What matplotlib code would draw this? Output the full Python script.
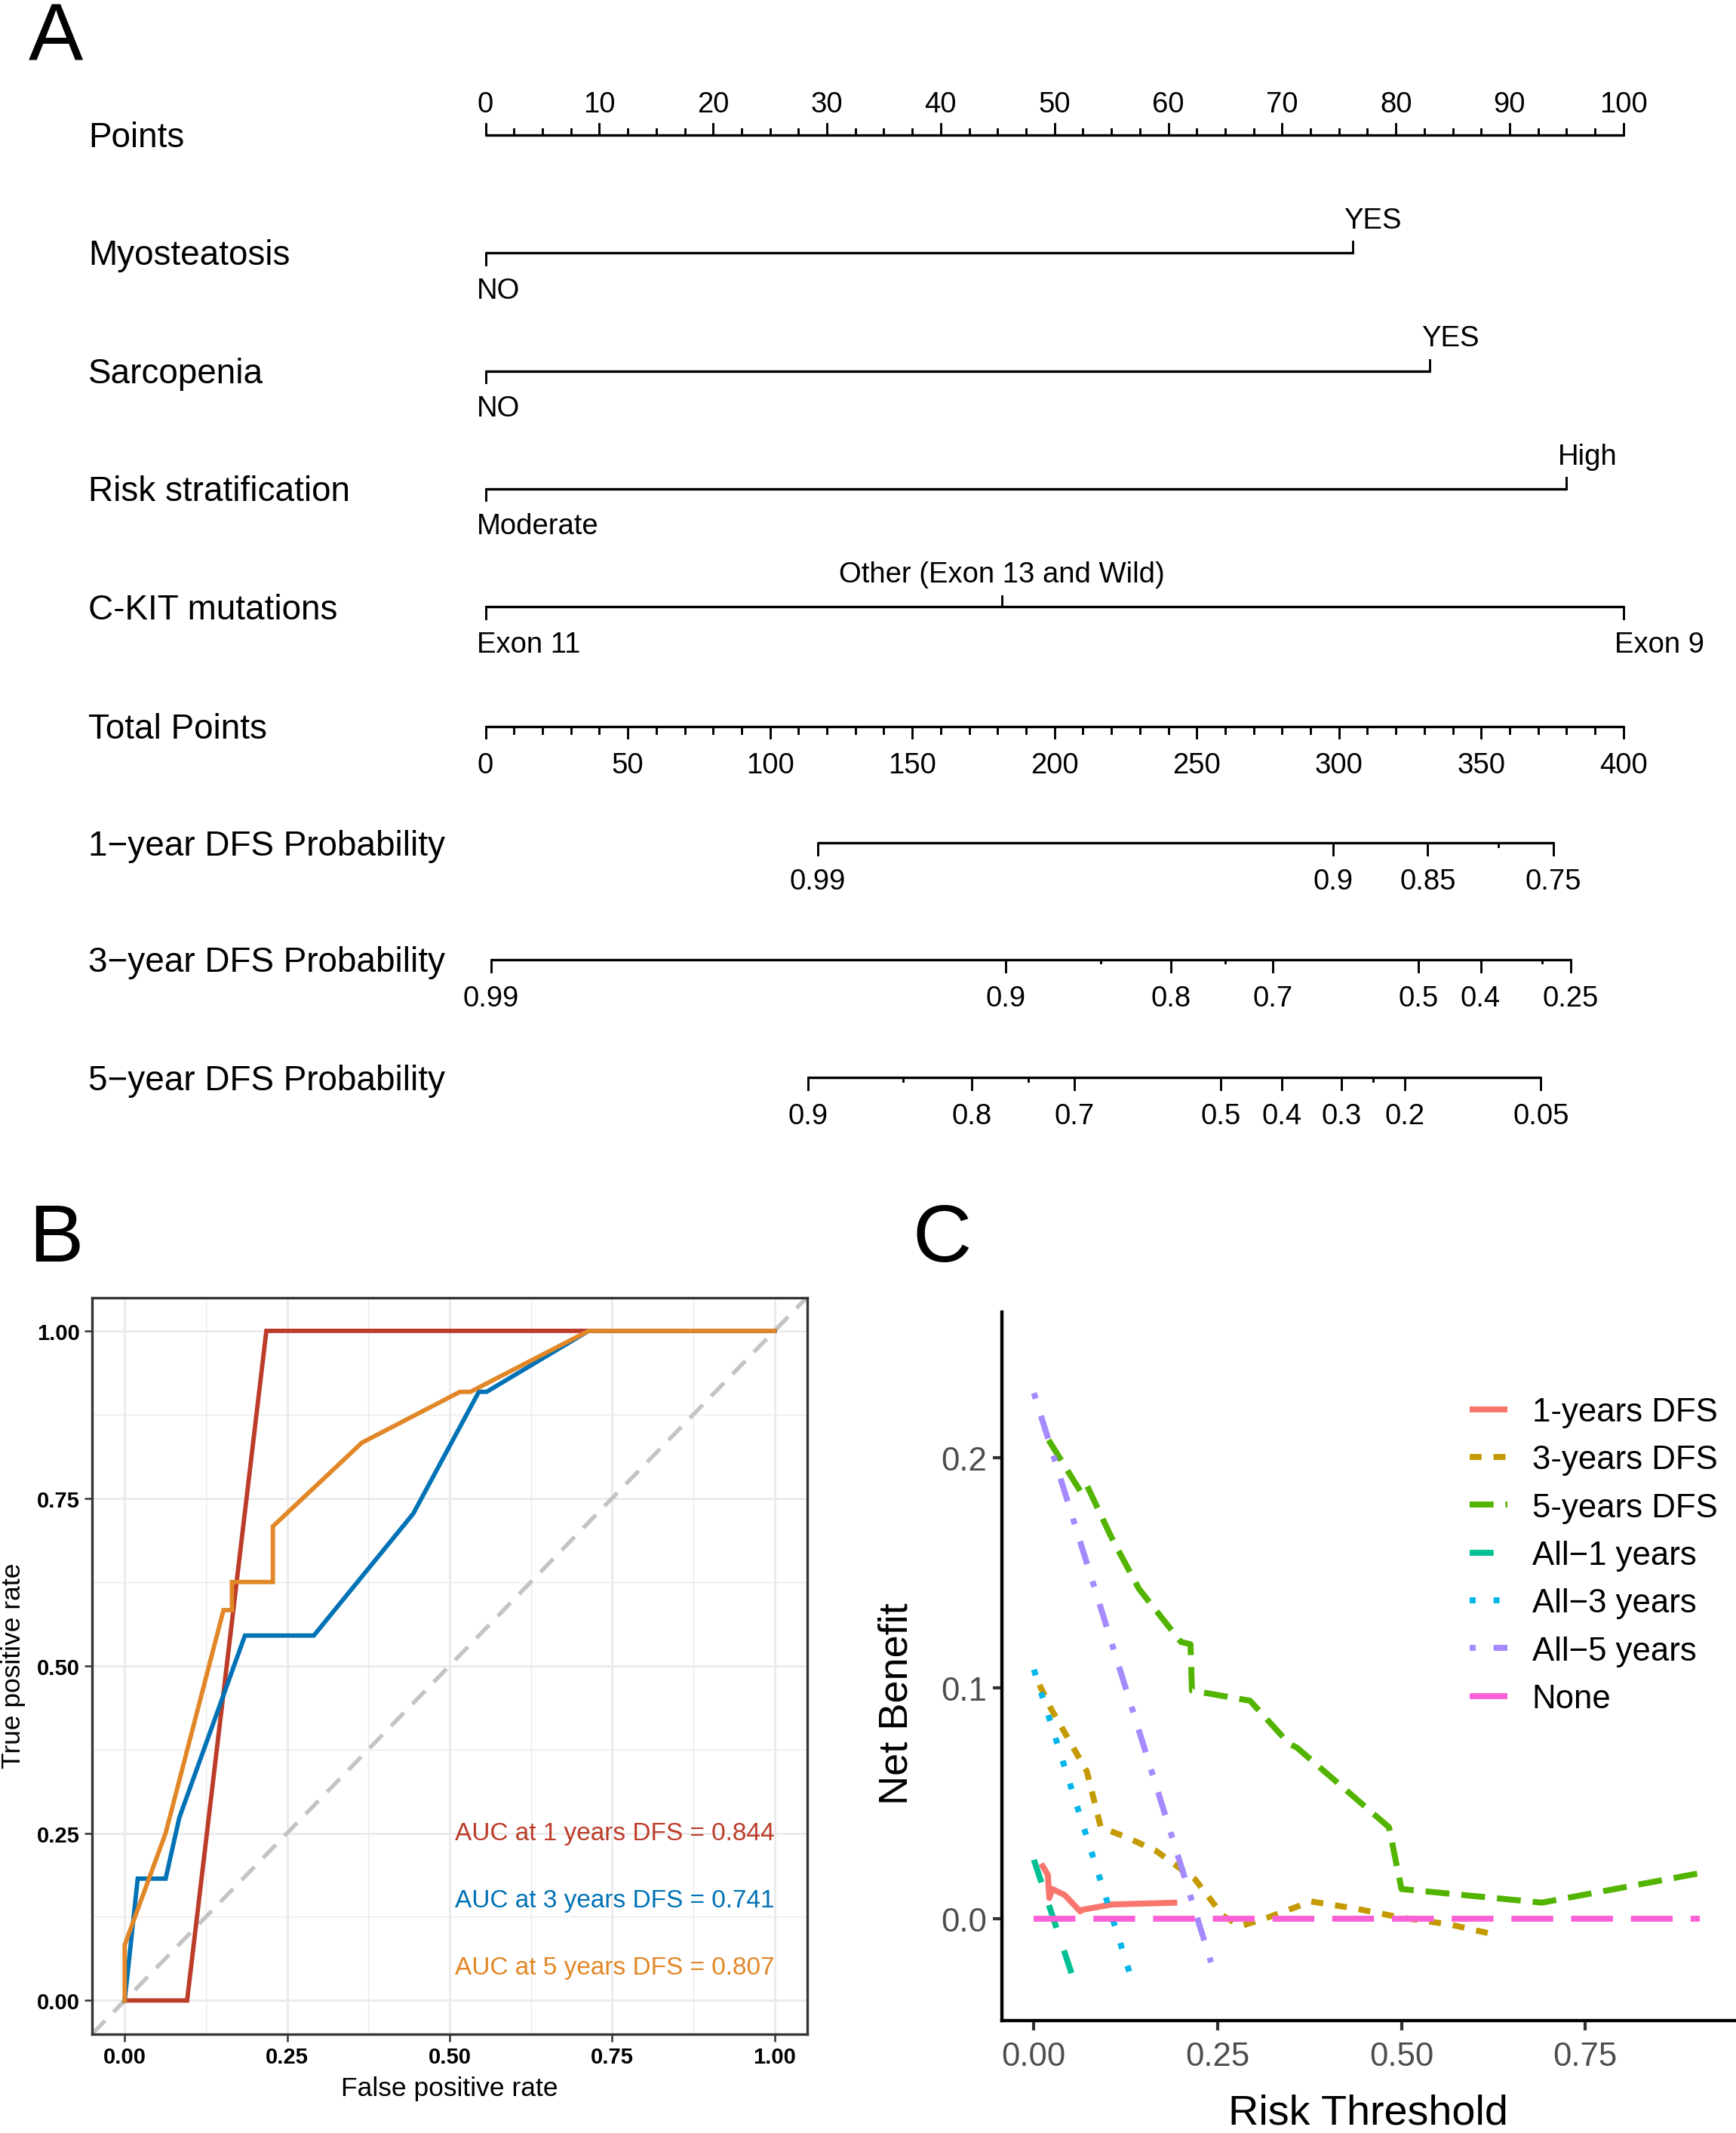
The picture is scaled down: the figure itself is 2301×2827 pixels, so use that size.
import matplotlib
matplotlib.use("Agg")
import matplotlib.pyplot as plt
import numpy as np

plt.rcParams['font.family'] = ['Liberation Sans', 'DejaVu Sans']
MINUS = "\u2212"

# ------------------------------------------------------------------ data
# Panel A: nomogram
points_major = list(range(0, 101, 10))
points_minor = list(np.arange(0, 100.1, 2.5))

var_names = ["Myosteatosis", "Sarcopenia", "Risk stratification", "C-KIT mutations"]
myo_levels = ["NO", "YES"]
myo_points = [0, 76.2]
sarc_levels = ["NO", "YES"]
sarc_points = [0, 83.0]
risk_levels = ["Moderate", "High"]
risk_points = [0, 95.0]
ckit_levels = ["Exon 11", "Other (Exon 13 and Wild)", "Exon 9"]
ckit_points = [0, 45.4, 100]

total_major = list(range(0, 401, 50))
total_minor = list(range(0, 401, 10))

prob_names = ["1" + MINUS + "year DFS Probability",
              "3" + MINUS + "year DFS Probability",
              "5" + MINUS + "year DFS Probability"]
p1_labels = ["0.99", "0.9", "0.85", "0.75"]
p1_total = [116.7, 297.9, 331.2, 375.3]
p1_minor = [355.9]
p3_labels = ["0.99", "0.9", "0.8", "0.7", "0.5", "0.4", "0.25"]
p3_total = [2.0, 182.9, 240.9, 276.7, 328.0, 349.8, 381.4]
p3_minor = [216.2, 260.1, 371.3]
p5_labels = ["0.9", "0.8", "0.7", "0.5", "0.4", "0.3", "0.2", "0.05"]
p5_total = [113.3, 170.9, 207.0, 258.4, 279.9, 300.8, 323.2, 371.0]
p5_minor = [146.9, 190.7, 312.0]

# Panel B: ROC curves
fpr_1y = [0, 0.096, 0.218, 1.0]
tpr_1y = [0, 0, 1.0, 1.0]
fpr_3y = [0, 0.020, 0.063, 0.084, 0.185, 0.291, 0.444, 0.545, 0.557, 0.714, 1.0]
tpr_3y = [0, 0.182, 0.182, 0.273, 0.545, 0.545, 0.727, 0.909, 0.909, 1.0, 1.0]
fpr_5y = [0, 0, 0.063, 0.152, 0.165, 0.165, 0.228, 0.228, 0.365, 0.516, 0.532, 0.714, 1.0]
tpr_5y = [0, 0.083, 0.25, 0.583, 0.583, 0.625, 0.625, 0.708, 0.833, 0.909, 0.909, 1.0, 1.0]
auc_texts = ["AUC at 1 years DFS = 0.844", "AUC at 3 years DFS = 0.741", "AUC at 5 years DFS = 0.807"]
roc_colors = ["#BC3C29", "#0072B5", "#E18727"]

# Panel C: decision curves
dca_labels = ["1-years DFS", "3-years DFS", "5-years DFS",
              "All" + MINUS + "1 years", "All" + MINUS + "3 years", "All" + MINUS + "5 years", "None"]
x_1y = [0.010, 0.019, 0.021, 0.025, 0.042, 0.063, 0.066, 0.106, 0.195]
nb_1y = [0.0238, 0.019, 0.0089, 0.0128, 0.0102, 0.0031, 0.0038, 0.0061, 0.0069]
x_3y = [0.0075, 0.023, 0.072, 0.091, 0.128, 0.166, 0.219, 0.257, 0.281, 0.317, 0.377, 0.438, 0.498, 0.566, 0.619]
nb_3y = [0.1014, 0.0912, 0.0639, 0.0396, 0.035, 0.0294, 0.0171, 0.0013, -0.0033, 0.0003, 0.0074, 0.0043, 0.0005, -0.0026, -0.0064]
x_5y = [0.020, 0.064, 0.072, 0.106, 0.143, 0.200, 0.213, 0.215, 0.294, 0.347, 0.358, 0.483, 0.500, 0.691, 0.906]
nb_5y = [0.2076, 0.185, 0.188, 0.165, 0.143, 0.120, 0.119, 0.0989, 0.0945, 0.0759, 0.0741, 0.0396, 0.0128, 0.0069, 0.0197]
x_all1 = [0.0, 0.053]
nb_all1 = [0.0255, -0.0255]
x_all3 = [0.0, 0.134]
nb_all3 = [0.108, -0.0273]
x_all5 = [0.0, 0.241]
nb_all5 = [0.228, -0.019]
x_none = [0.0, 0.906]
nb_none = [0.0, 0.0]
dca_colors = ["#F8766D", "#C49A00", "#53B400", "#00C094", "#00B6EB", "#A58AFF", "#FB61D7"]
dca_dashes = [None, (2, 2), (4, 2), (4, 4), (1, 3), (1, 3, 4, 3), (7, 3)]

# ------------------------------------------------------------------ figure
W, H = 1280.0, 1573.0   # layout reference units
fig = plt.figure(figsize=(2301 / 300, 2828 / 300), dpi=300)


def fx(x):
    return x / W


def fy(y):
    return 1 - y / H


# ---------------- Panel A ----------------
axA = fig.add_axes([0, fy(880), 1, 880 / H])
PX = 8.39  # display px per point unit
axA.set_xlim(-358 / PX, (W - 358) / PX)
axA.set_ylim(880, 0)
axA.axis('off')

LW_LINE = 0.8
LW_TICK = 0.7
FS_NAME = 11.0
FS_LAB = 9.2
name_x = (65 - 358) / PX
row_y = [100, 187, 274, 361, 448, 536, 622, 708, 795]

# Points axis
y = row_y[0]
axA.text(name_x, y + 8.5, "Points", fontsize=FS_NAME, ha='left', va='baseline')
axA.plot([0, 100], [y, y], color='black', lw=LW_LINE, solid_capstyle='butt')
for p in points_minor:
    ln = 8.3 if (abs(p % 10) < 1e-6) else 4.6
    axA.plot([p, p], [y, y - ln], color='black', lw=LW_TICK)
for p in points_major:
    axA.text(p, y - 17.2, str(p), fontsize=FS_LAB, ha='center', va='baseline')

# Variables
all_levels = [myo_levels, sarc_levels, risk_levels, ckit_levels]
all_points = [myo_points, sarc_points, risk_points, ckit_points]
for i, (nm, levs, pts) in enumerate(zip(var_names, all_levels, all_points)):
    y = row_y[i + 1]
    axA.text(name_x, y + 8.5, nm, fontsize=FS_NAME, ha='left', va='baseline')
    axA.plot([min(pts), max(pts)], [y, y], color='black', lw=LW_LINE, solid_capstyle='butt')
    for j, (lv, p) in enumerate(zip(levs, pts)):
        down = (j % 2 == 0)
        if down:
            axA.plot([p, p], [y, y + 8.6], color='black', lw=LW_TICK)
            ly = y + 33
        else:
            axA.plot([p, p], [y, y - 8.3], color='black', lw=LW_TICK)
            ly = y - 18.5
        if 0 < j < len(levs) - 1:
            axA.text(p, ly, lv, fontsize=FS_LAB, ha='center', va='baseline')
        else:
            axA.text(p - 0.75, ly, lv, fontsize=FS_LAB, ha='left', va='baseline')

# Total points axis
y = row_y[5]
axA.text(name_x, y + 8.5, "Total Points", fontsize=FS_NAME, ha='left', va='baseline')
axA.plot([0, 100], [y, y], color='black', lw=LW_LINE, solid_capstyle='butt')
for t in total_minor:
    ln = 8.3 if t % 50 == 0 else 5.2
    axA.plot([t / 4, t / 4], [y, y + ln], color='black', lw=LW_TICK)
for t in total_major:
    axA.text(t / 4, y + 34, str(t), fontsize=FS_LAB, ha='center', va='baseline')

# Probability axes
for k, (nm, labs, tots, mins) in enumerate(zip(prob_names,
                                               [p1_labels, p3_labels, p5_labels],
                                               [p1_total, p3_total, p5_total],
                                               [p1_minor, p3_minor, p5_minor])):
    y = row_y[6 + k]
    axA.text(name_x, y + 8.5, nm, fontsize=FS_NAME, ha='left', va='baseline')
    axA.plot([min(tots) / 4, max(tots) / 4], [y, y], color='black', lw=LW_LINE, solid_capstyle='butt')
    for lab, t in zip(labs, tots):
        axA.plot([t / 4, t / 4], [y, y + 8.8], color='black', lw=LW_TICK)
        axA.text(t / 4, y + 34, lab, fontsize=FS_LAB, ha='center', va='baseline')
    for t in mins:
        axA.plot([t / 4, t / 4], [y, y + 2.5], color='black', lw=LW_TICK)

# ---------------- Panel B ----------------
axB = fig.add_axes([fx(68), fy(1500), (595 - 68) / W, (1500 - 957) / H])
axB.set_xlim(-0.05, 1.05)
axB.set_ylim(-0.05, 1.05)
ticks = [0, 0.25, 0.5, 0.75, 1.0]
tlabs = ["0.00", "0.25", "0.50", "0.75", "1.00"]
axB.set_xticks(ticks)
axB.set_xticklabels(tlabs)
axB.set_yticks(ticks)
axB.set_yticklabels(tlabs)
axB.set_xticks([0.125, 0.375, 0.625, 0.875], minor=True)
axB.set_yticks([0.125, 0.375, 0.625, 0.875], minor=True)
axB.grid(which='major', color='#EBEBEB', lw=0.7)
axB.grid(which='minor', color='#EBEBEB', lw=0.35)
axB.set_axisbelow(True)
axB.tick_params(which='minor', length=0)
axB.tick_params(which='major', length=2.5, width=0.6, color='#333333', labelsize=7, pad=1.5,
                labelcolor='black')
for lab in axB.get_xticklabels() + axB.get_yticklabels():
    lab.set_fontweight('bold')
for s in axB.spines.values():
    s.set_color('#333333')
    s.set_linewidth(0.8)

axB.plot([-0.05, 1.05], [-0.05, 1.05], color='#C4C4C4', lw=1.3, dashes=(4.5, 3))
for fp, tp, c in zip([fpr_1y, fpr_3y, fpr_5y], [tpr_1y, tpr_3y, tpr_5y], roc_colors):
    axB.plot(fp, tp, color=c, lw=1.4, solid_joinstyle='miter')
for i, (txt, c) in enumerate(zip(auc_texts, roc_colors)):
    axB.text(1.0, 0.25 - 0.1 * i, txt, color=c, fontsize=8, ha='right', va='center')

fig.text(fx(331.5), fy(1545), "False positive rate", fontsize=8.5, ha='center', va='baseline')
fig.text(fx(10), fy(1228), "True positive rate", fontsize=8.5, ha='center', va='center',
         rotation=90)

# ---------------- Panel C ----------------
axC = fig.add_axes([fx(739), fy(1490), (W - 739) / W, (1490 - 968) / H])
axC.set_xlim(-0.043, 0.955)
axC.set_ylim(-0.0442, 0.263)
for s in ['top', 'right']:
    axC.spines[s].set_visible(False)
for s in ['left', 'bottom']:
    axC.spines[s].set_linewidth(1.05)
    axC.spines[s].set_color('black')
axC.set_xticks([0, 0.25, 0.5, 0.75])
axC.set_xticklabels(["0.00", "0.25", "0.50", "0.75"])
axC.set_yticks([0, 0.1, 0.2])
axC.set_yticklabels(["0.0", "0.1", "0.2"])
axC.tick_params(length=3, width=1.0, color='#333333', labelsize=10.5, labelcolor='#4D4D4D', pad=2)
axC.tick_params(axis='x', pad=3.5)

xs = [x_1y, x_3y, x_5y, x_all1, x_all3, x_all5, x_none]
ys = [nb_1y, nb_3y, nb_5y, nb_all1, nb_all3, nb_all5, nb_none]
handles = []
for xv, yv, c, d, lab in zip(xs, ys, dca_colors, dca_dashes, dca_labels):
    if d is None:
        h, = axC.plot(xv, yv, color=c, lw=1.9, label=lab, solid_capstyle='butt')
    else:
        h, = axC.plot(xv, yv, color=c, lw=1.9, label=lab, dashes=d, dash_capstyle='butt')
    handles.append(h)
axC.legend(handles=handles, loc='upper left', bbox_to_anchor=(0.637, 0.881), frameon=False,
           fontsize=10.5, handlelength=1.15, handletextpad=0.74, labelspacing=0.51,
           borderpad=0, borderaxespad=0)

fig.text(fx(1009), fy(1566), "Risk Threshold", fontsize=13.4, ha='center', va='baseline')
fig.text(fx(661), fy(1256), "Net Benefit", fontsize=13, ha='center', va='center', rotation=90)

# ---------------- panel letters ----------------
fig.text(fx(21), fy(45), "A", fontsize=26, ha='left', va='baseline')
fig.text(fx(21), fy(930), "B", fontsize=26, ha='left', va='baseline')
fig.text(fx(673), fy(930), "C", fontsize=26, ha='left', va='baseline')

fig.savefig("out.png", dpi=300, facecolor='white')
